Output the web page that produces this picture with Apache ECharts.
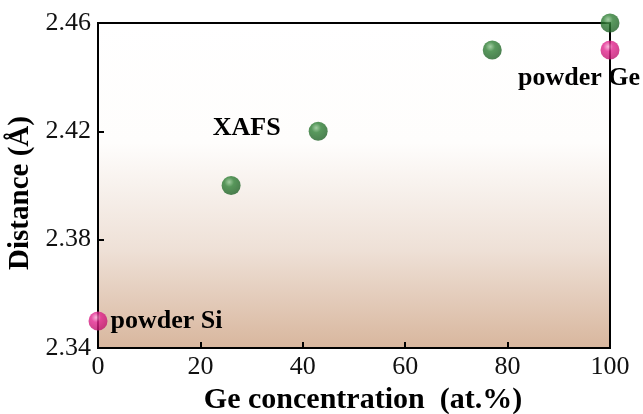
<!DOCTYPE html>
<html>
<head>
<meta charset="utf-8">
<script src="https://cdn.jsdelivr.net/npm/echarts@6/dist/echarts.min.js"></script>
<style>
  html, body { margin: 0; padding: 0; background: #fff; }
  #chart { width: 643px; height: 414px; }
</style>
</head>
<body>
<div id="chart"></div>
<script>
// data
const xafsGe = [26, 43, 77, 100];
const xafsDist = [2.40, 2.42, 2.45, 2.46];
const powderGe = [0, 100];
const powderDist = [2.35, 2.45];
const powderNames = ['powder Si', 'powder Ge'];
const xTicks = [0, 20, 40, 60, 80, 100];
const yTicks = [2.34, 2.38, 2.42, 2.46];

const serif = '"Liberation Serif", "DejaVu Serif", serif';

const chart = echarts.init(document.getElementById('chart'));

function ball(light, mid, dark) {
  return new echarts.graphic.RadialGradient(0.4, 0.32, 0.72, [
    { offset: 0, color: light },
    { offset: 0.35, color: mid },
    { offset: 1, color: dark }
  ]);
}

const greenBall = ball('#8cc28c', '#2f7f35', '#1d5e24');
const pinkBall = ball('#f6a6d2', '#e2258e', '#bd126c');

// bold serif annotation text
function note(extra) {
  return Object.assign({
    show: true,
    fontFamily: serif,
    fontWeight: 'bold',
    fontSize: 26,
    color: '#000',
    opacity: 1,
    textBorderWidth: 0,
    textShadowBlur: 0
  }, extra);
}

const xafsData = xafsGe.map((g, i) => {
  const item = { value: [g, xafsDist[i]] };
  if (g === 43) {
    item.label = note({ formatter: 'XAFS', position: 'left', distance: 28, offset: [0, -3] });
  }
  return item;
});

const powderData = powderGe.map((g, i) => {
  const item = { value: [g, powderDist[i]], name: powderNames[i] };
  if (g === 0) {
    item.label = note({ formatter: '{b}', position: 'right', distance: 3 });
  } else {
    item.label = note({ formatter: '{b}', position: 'inside', offset: [-31, 28] });
  }
  return item;
});

const option = {
  animation: false,
  grid: {
    left: 98,
    right: 33,
    top: 23,
    bottom: 66,
    outerBoundsMode: 'none',
    containLabel: false,
    show: true,
    borderColor: '#000',
    borderWidth: 2,
    backgroundColor: new echarts.graphic.LinearGradient(0, 0, 0, 1, [
      { offset: 0, color: '#ffffff' },
      { offset: 0.37, color: '#fefdfc' },
      { offset: 0.7, color: '#eee0d6' },
      { offset: 1, color: '#d8b69d' }
    ])
  },
  xAxis: {
    type: 'value',
    min: xTicks[0],
    max: xTicks[xTicks.length - 1],
    interval: 20,
    name: 'Ge concentration  (at.%)',
    nameLocation: 'middle',
    nameGap: 37,
    nameTextStyle: {
      fontFamily: serif, fontWeight: 'bold', fontSize: 30, color: '#000',
      padding: [0, 0, 0, 18]
    },
    axisLine: { lineStyle: { color: '#000', width: 2 } },
    axisTick: { inside: true, length: 6, lineStyle: { color: '#000', width: 2 } },
    axisLabel: { fontFamily: serif, fontSize: 26, color: '#111', margin: 6 },
    splitLine: { show: false }
  },
  yAxis: {
    type: 'value',
    min: yTicks[0],
    max: yTicks[yTicks.length - 1],
    interval: 0.04,
    name: 'Distance (Å)',
    nameLocation: 'middle',
    nameGap: 59,
    nameTextStyle: {
      fontFamily: serif, fontWeight: 'bold', fontSize: 29, color: '#000',
      padding: [0, 15, 0, 0]
    },
    axisLine: { lineStyle: { color: '#000', width: 2 } },
    axisTick: { inside: true, length: 6, lineStyle: { color: '#000', width: 2 } },
    axisLabel: {
      fontFamily: serif, fontSize: 26, color: '#111', margin: 7,
      formatter: v => v.toFixed(2)
    },
    splitLine: { show: false }
  },
  series: [
    {
      name: 'XAFS',
      type: 'scatter',
      symbolSize: 19,
      data: xafsData,
      itemStyle: { color: greenBall },
      z: 3
    },
    {
      name: 'powder',
      type: 'scatter',
      symbolSize: 19,
      data: powderData,
      itemStyle: { color: pinkBall },
      z: 4
    }
  ]
};

chart.setOption(option);
</script>
</body>
</html>
